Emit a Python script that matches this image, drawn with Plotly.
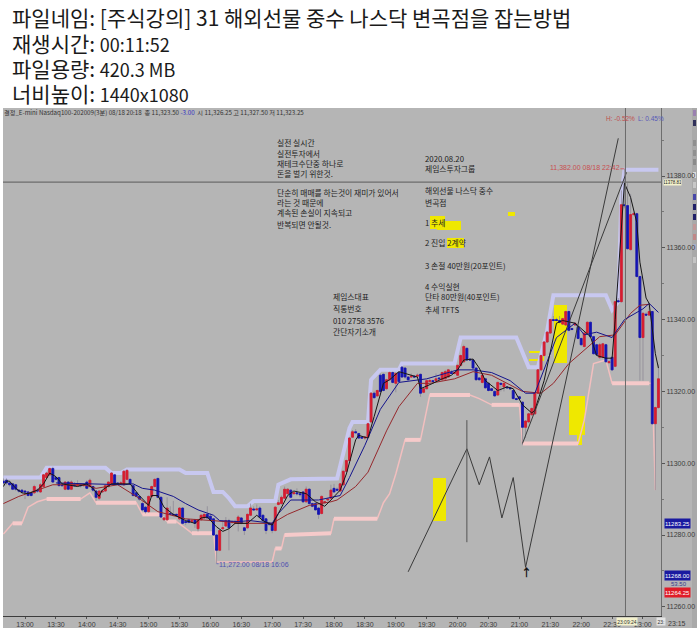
import pandas as pd
import plotly.graph_objects as go

DAY = "2020-08-18 "
KR = "Noto Sans CJK KR"
SMALL = "Liberation Sans"
W, H = 700, 631

# 3 minute bars, 12:39 to 23:15
bar_times = pd.date_range(DAY + "12:39", DAY + "23:15", freq="3min")

opens = [
    11295, 11295.25, 11294.5, 11294.25, 11294, 11292.5, 11292.5, 11292.25, 11292, 11291.75,
    11291.75, 11292.5, 11292, 11293.5, 11296, 11296.75, 11298.5, 11296, 11296, 11294,
    11292.75, 11294.75, 11292.75, 11294, 11293.75, 11294, 11293.75, 11294.75, 11293.5, 11293.5,
    11292.25, 11290.25, 11292, 11292.25, 11293.5, 11294.25, 11296.75, 11294.5, 11294.25, 11294,
    11295.5, 11295.5, 11293.75, 11291.75, 11290.75, 11288.75, 11287.75, 11286.5, 11290.75, 11293.5,
    11295.75, 11290.5, 11284.25, 11284.25, 11286, 11285.75, 11285.75, 11284.5, 11287.5, 11283.75,
    11284.25, 11283.75, 11284.25, 11281.75, 11284.25, 11284.75, 11285.75, 11285.25, 11284.5, 11280,
    11275.75, 11281.75, 11282.5, 11284, 11283.5, 11283.25, 11283.25, 11284.75, 11282, 11282,
    11285.5, 11287.25, 11287, 11287.5, 11285.5, 11284.5, 11283.25, 11283.25, 11281.25, 11288.5,
    11288.75, 11290.25, 11291.5, 11292.5, 11291.5, 11291.75, 11291.5, 11292, 11289.25, 11292.75,
    11288.75, 11288.75, 11287.5, 11286, 11289, 11289.75, 11290.25, 11293, 11292.75, 11292.25,
    11294, 11297.75, 11300.75, 11307.25, 11308.75, 11308.25, 11307.25, 11307, 11307.25, 11311.5,
    11319.5, 11318.75, 11324.5, 11324.75, 11320.75, 11323.25, 11325.25, 11322.25, 11325.25, 11326.75,
    11326.5, 11324, 11324, 11324.25, 11324.25, 11324.75, 11319.75, 11320.75, 11322.75, 11323,
    11323, 11323.75, 11323.25, 11323.5, 11324, 11325.25, 11325, 11324.5, 11327.25, 11328.25,
    11332, 11329, 11328.75, 11326.5, 11323.75, 11322.5, 11323.5, 11322.25, 11320.75, 11320,
    11319, 11322.25, 11321.25, 11321.25, 11321, 11320.25, 11318, 11318.5, 11317, 11310,
    11311.5, 11313.5, 11313.75, 11319.5, 11326, 11330, 11333.75, 11336.25, 11340, 11340,
    11339.75, 11338.75, 11338.5, 11342.25, 11337.5, 11338.5, 11338, 11334.75, 11332.5, 11336.25,
    11339.25, 11335.25, 11333, 11329.5, 11329.5, 11333, 11328, 11329.5, 11327, 11345.25,
    11345, 11372, 11371.75, 11359.5, 11369.25, 11369.5, 11352, 11335, 11341.5, 11341.25,
    11342.25, 11311, 11315.5,
]
closes = [
    11294.5, 11294.5, 11294, 11292.75, 11292.75, 11292.25, 11292, 11292, 11291, 11291,
    11293.5, 11292.25, 11294, 11296.75, 11297.25, 11298.5, 11294.75, 11295.5, 11293.75, 11293.75,
    11294.75, 11292.75, 11294.75, 11293.75, 11294, 11293.75, 11294, 11293, 11295.25, 11292.5,
    11290.5, 11292.25, 11292.25, 11293.75, 11294.75, 11297.25, 11294.25, 11294.25, 11294.5, 11297.75,
    11298, 11294.25, 11291, 11290.75, 11290, 11287, 11286.5, 11290.75, 11293.5, 11295.5,
    11290.5, 11285, 11284.75, 11287.5, 11285.75, 11285.5, 11285.5, 11287.5, 11283.25, 11283.5,
    11283.5, 11284, 11283.25, 11284.25, 11285.5, 11285.75, 11284.75, 11284.25, 11280, 11275.75,
    11281.25, 11282, 11284, 11282, 11283.75, 11283.75, 11285, 11283.25, 11281.25, 11285.75,
    11287.5, 11287, 11287.25, 11285, 11284, 11281.25, 11283, 11281.25, 11287.75, 11289,
    11290.5, 11292.75, 11292.75, 11290.5, 11291.75, 11291.5, 11291.25, 11289.25, 11292.75, 11288.75,
    11288, 11287, 11285.75, 11290.75, 11289.25, 11290, 11292.5, 11292, 11292.5, 11294.25,
    11297.75, 11300.75, 11307, 11308.75, 11308.5, 11307, 11307, 11307.25, 11311, 11319.5,
    11318.25, 11320.25, 11320, 11320.25, 11323.25, 11325.25, 11322.5, 11325, 11322.75, 11324,
    11324, 11323.25, 11324.25, 11324, 11324.5, 11319.5, 11320.75, 11323, 11323, 11322.75,
    11323.5, 11323.5, 11325.25, 11325.5, 11326, 11325, 11325.25, 11327.25, 11330, 11332.5,
    11328.75, 11328.75, 11326.5, 11323.25, 11323.25, 11324.5, 11321, 11320.25, 11320.25, 11318.75,
    11322.5, 11322, 11322.25, 11321, 11320.75, 11318, 11317.75, 11318, 11310, 11311.75,
    11313.75, 11315.25, 11319.5, 11326, 11330, 11333.75, 11336.5, 11340, 11339.75, 11339.75,
    11339.25, 11340.25, 11342.25, 11337, 11337.25, 11339, 11334.75, 11333, 11336.25, 11339.25,
    11335.25, 11330.5, 11330.25, 11333, 11333.25, 11328.25, 11328.25, 11326, 11345, 11345,
    11372, 11371.75, 11359.75, 11369.25, 11369.5, 11352, 11335, 11341.75, 11341.25, 11342.25,
    11311, 11315.5, 11323.5,
]
highs = [
    11295.75, 11295.75, 11295, 11294.5, 11294.25, 11292.75, 11292.75, 11292.5, 11292.25, 11292,
    11294, 11293, 11294.5, 11297, 11297.5, 11298.75, 11299, 11296.25, 11296.25, 11294.5,
    11295, 11295, 11295.25, 11294.75, 11295.25, 11294.25, 11294.25, 11295.25, 11295.75, 11293.75,
    11292.5, 11292.5, 11292.5, 11294, 11295, 11297.5, 11297, 11294.75, 11295, 11298,
    11298.25, 11295.75, 11294, 11292, 11291, 11289.25, 11288, 11291, 11293.75, 11295.75,
    11296, 11290.75, 11285, 11290.5, 11288, 11289.5, 11286, 11287.75, 11287.75, 11284.5,
    11284.5, 11284.5, 11284.5, 11284.5, 11285.75, 11286, 11288, 11286, 11284.75, 11280.25,
    11281.5, 11284, 11285, 11284.5, 11284, 11284.25, 11285.5, 11285, 11282.25, 11286,
    11288.75, 11288, 11288.5, 11288, 11285.75, 11284.75, 11283.5, 11283.5, 11288, 11289.75,
    11291, 11293.5, 11293, 11292.75, 11292, 11293, 11291.75, 11292.25, 11293.5, 11293,
    11289, 11289, 11287.75, 11291, 11289.5, 11290.25, 11294, 11294.25, 11293.25, 11294.5,
    11298, 11301, 11307.25, 11309.25, 11309.5, 11308.5, 11307.5, 11307.5, 11311.25, 11319.75,
    11320, 11320.5, 11325, 11325, 11323.5, 11325.5, 11325.5, 11325.25, 11325.5, 11327,
    11326.75, 11324.25, 11325, 11324.5, 11325, 11325, 11321, 11323.25, 11323.5, 11323.25,
    11325, 11324, 11325.5, 11326, 11326.25, 11326, 11325.5, 11327.5, 11330.25, 11333,
    11332.25, 11329.25, 11329, 11326.75, 11324, 11324.75, 11323.75, 11322.5, 11321, 11320.25,
    11322.75, 11322.5, 11322.5, 11321.5, 11321.25, 11320.5, 11318.25, 11318.75, 11317.25, 11312,
    11314, 11315.5, 11319.75, 11326.25, 11330.25, 11334, 11336.75, 11340.25, 11341, 11340.5,
    11341, 11340.5, 11342.5, 11342.5, 11337.75, 11339.25, 11338.25, 11335, 11336.5, 11339.5,
    11339.5, 11335.5, 11333.25, 11333.5, 11333.5, 11333.25, 11328.75, 11329.75, 11345.25, 11346,
    11376, 11382, 11378, 11375, 11370, 11369.75, 11352.25, 11342, 11342, 11344,
    11342.5, 11315.75, 11327.5,
]
lows = [
    11294, 11294, 11293.5, 11292.5, 11292.25, 11291.75, 11291.5, 11290, 11290.75, 11290.75,
    11291.5, 11291.75, 11291.75, 11293.25, 11295.75, 11296.5, 11294.5, 11295, 11293.5, 11293.5,
    11292.5, 11292.5, 11292.5, 11293.5, 11293.5, 11293.25, 11293.5, 11292.75, 11293.25, 11292,
    11289.5, 11289.75, 11291.75, 11292, 11293.25, 11294, 11293.75, 11294, 11294, 11293.75,
    11295.25, 11294, 11290.75, 11290.5, 11289.5, 11286.75, 11286, 11286.25, 11290.5, 11293.25,
    11290.25, 11284.75, 11284, 11284, 11285.5, 11285.25, 11285.25, 11284.25, 11283, 11282.75,
    11283.25, 11283.5, 11282, 11281, 11284, 11284.5, 11284.5, 11284, 11279.75, 11272,
    11275.5, 11281.5, 11282.25, 11275.75, 11283, 11283, 11281, 11283, 11280, 11281.75,
    11285.25, 11286.75, 11286.75, 11284.75, 11283.75, 11280.25, 11282.5, 11280.5, 11281, 11288.25,
    11288.5, 11290, 11291.25, 11290.25, 11291.25, 11291, 11290.5, 11289, 11289, 11288.5,
    11287.75, 11286.75, 11284.5, 11285.75, 11288.75, 11289.5, 11290, 11291.75, 11292.25, 11292,
    11293.75, 11297.5, 11300.5, 11307, 11308.25, 11306.75, 11306.75, 11306.5, 11307, 11311.25,
    11318, 11318.5, 11319.75, 11320, 11320.5, 11323, 11322.25, 11319.75, 11322.5, 11323.75,
    11323.5, 11323, 11323.75, 11323.75, 11324, 11318.5, 11319.5, 11320.5, 11322.5, 11322.5,
    11322.75, 11323.25, 11323, 11323.25, 11323.75, 11324.75, 11324.75, 11324.25, 11327, 11328,
    11328.5, 11328.5, 11326.25, 11323, 11323, 11322.25, 11320.75, 11320, 11320, 11318.5,
    11318.75, 11320, 11320, 11320.75, 11320.5, 11317.75, 11317.5, 11317.75, 11305, 11307,
    11311.25, 11313.25, 11313.5, 11319.25, 11325.75, 11329.75, 11333.5, 11336, 11339.5, 11339.5,
    11339, 11338.5, 11338.25, 11336.75, 11337, 11338.25, 11334.5, 11332.75, 11332.25, 11336,
    11335, 11330.25, 11330, 11329, 11329.25, 11328, 11327.75, 11325.75, 11326.75, 11344.75,
    11344.75, 11371, 11359.5, 11359.25, 11369, 11351.75, 11323, 11323, 11341, 11341,
    11310.75, 11292.5, 11315.25,
]

# indicator lines, read at their corners
upper_times = ["12:39", "13:15", "13:21", "14:18", "14:24", "14:33", "14:39", "15:30", "15:36", "15:57",
               "16:03", "16:12", "16:18", "16:24", "16:36", "16:42", "17:03", "17:06", "17:18", "18:03",
               "18:15", "18:18", "18:33", "18:36", "18:45", "19:03", "19:06", "19:57", "20:03", "20:57",
               "21:09", "21:18", "21:27", "21:33", "22:24", "22:30", "22:36", "22:39", "22:42", "23:15"]
upper_vals = [11296, 11296, 11298.75, 11298.75, 11297.25, 11297.25, 11298.25, 11298.25, 11297.25, 11297.25,
              11292, 11292, 11290.25, 11288, 11288, 11289.5, 11289.5, 11294, 11295.5, 11295.75,
              11309.75, 11311.5, 11311.5, 11323.25, 11326, 11326, 11327.75, 11327.75, 11335, 11335,
              11326.75, 11326.75, 11337, 11346.75, 11346.75, 11342.75, 11345, 11373.75, 11381.75, 11381.75]

lower_times = ["12:39", "12:45", "12:48", "12:57", "13:03", "13:12", "13:21", "13:54", "14:03", "14:09",
               "14:48", "14:54", "15:12", "15:18", "15:27", "15:33", "15:42", "16:03", "16:06", "17:00",
               "17:03", "17:09", "17:12", "17:57", "18:00", "18:42", "18:48", "18:54", "19:00", "19:09",
               "19:24", "19:33", "20:12", "20:21", "20:33", "21:00", "21:03", "21:57", "22:03", "22:12",
               "22:24", "22:30", "23:06", "23:09", "23:12"]
lower_vals = [11280.25, 11282.25, 11283.25, 11283.25, 11287.75, 11289.25, 11290, 11290, 11291.75, 11289,
              11289, 11285.75, 11285.75, 11283.75, 11283.75, 11282.5, 11280.5, 11280.5, 11272.5, 11272.5,
              11276.25, 11276.25, 11280, 11280.5, 11284.5, 11284.5, 11289, 11291.5, 11297, 11306.5,
              11306.5, 11319, 11319, 11318, 11316.25, 11316.25, 11305.5, 11305.5, 11312, 11327.75,
              11328.75, 11322.25, 11322.25, 11322.25, 11292.5]

# flat stretches of the lower band are drawn thick
flat_times = ["12:48", "12:57", None, "13:21", "13:54", None, "14:09", "14:48", None, "14:54", "15:12", None,
              "15:18", "15:27", None, "15:42", "16:03", None, "17:03", "17:09", None, "17:12", "17:57", None,
              "18:00", "18:42", None, "19:09", "19:24", None, "19:33", "20:12", None, "20:33", "21:00", None,
              "21:03", "21:57", None, "22:30", "23:06"]
flat_vals = [11283.25, 11283.25, None, 11290, 11290, None, 11289, 11289, None, 11285.75, 11285.75, None,
             11283.75, 11283.75, None, 11280.5, 11280.5, None, 11276.25, 11276.25, None, 11280, 11280.5, None,
             11284.5, 11284.5, None, 11306.5, 11306.5, None, 11319, 11319, None, 11316.25, 11316.25, None,
             11305.5, 11305.5, None, 11322.25, 11322.25]

fast_times = ["12:39", "12:42", "12:45", "12:51", "12:57", "13:03", "13:12", "13:18", "13:24", "13:30",
              "13:36", "13:51", "14:00", "14:06", "14:12", "14:15", "14:24", "14:36", "14:42", "14:51",
              "15:00", "15:03", "15:09", "15:15", "15:24", "15:36", "15:45", "15:51", "15:57", "16:06",
              "16:12", "16:18", "16:24", "16:36", "16:45", "16:51", "17:00", "17:06", "17:15", "17:21",
              "17:33", "17:42", "17:51", "17:57", "18:06", "18:12", "18:21", "18:24", "18:33", "18:39",
              "18:45", "18:48", "18:54", "19:03", "19:21", "19:24", "19:36", "19:45", "19:54", "20:00",
              "20:06", "20:15", "20:21", "20:27", "20:39", "20:48", "20:54", "21:03", "21:12", "21:15",
              "21:24", "21:36", "21:42", "21:54", "22:09", "22:15", "22:24", "22:30", "22:33", "22:39",
              "22:42", "22:48", "22:54", "22:57", "23:03", "23:06", "23:12", "23:15"]
fast_vals = [11293.5, 11295, 11295, 11293, 11291.75, 11291.5, 11292.5, 11294.25, 11297.25, 11296.25,
             11294.25, 11293.5, 11294.25, 11293, 11290.75, 11292.5, 11294.25, 11294.25, 11294.25, 11291,
             11288.25, 11291, 11291, 11287.75, 11285.75, 11284, 11283.25, 11284.75, 11285, 11282.25,
             11281, 11281.75, 11283.25, 11283.25, 11285.5, 11284, 11282.75, 11286, 11291, 11292.25,
             11291.5, 11289.25, 11288, 11289.75, 11292.5, 11297, 11306.5, 11307.75, 11307, 11313,
             11319.5, 11322.25, 11323.25, 11325.5, 11324, 11320.75, 11322.25, 11323.5, 11324.5, 11326,
             11328.75, 11329, 11326.5, 11323, 11320.25, 11321.25, 11320.75, 11316.25, 11314, 11314.75,
             11323, 11339, 11339.75, 11339, 11335.25, 11330, 11329.25, 11329.25, 11340, 11365,
             11378, 11374, 11367, 11356, 11346, 11344.5, 11330.5, 11326.5]

mid_times = ["13:30", "14:00", "14:36", "14:45", "14:54", "15:06", "15:24", "15:36", "15:48", "16:03",
             "16:09", "16:27", "16:39", "17:00", "17:06", "17:18", "17:45", "18:06", "18:15", "18:30",
             "18:45", "19:03", "19:30", "20:00", "20:15", "20:33", "20:51", "21:06", "21:15", "21:36",
             "21:54", "22:03", "22:15", "22:30", "22:42", "23:00", "23:06", "23:15"]
mid_vals = [11294.5, 11294.25, 11294, 11294.25, 11293, 11292.5, 11290.75, 11288.75, 11287, 11285.5,
            11284, 11283.75, 11284, 11283.25, 11286, 11289.75, 11289.75, 11291, 11296, 11305,
            11315, 11322.5, 11323.5, 11326, 11326, 11325.25, 11323, 11319.5, 11319.5, 11335,
            11339, 11335.75, 11336.5, 11335, 11340, 11343, 11344.5, 11342]

slow_times = ["12:39", "12:54", "13:12", "13:27", "13:57", "14:09", "14:30", "14:48", "15:09", "15:36",
              "16:03", "16:33", "17:00", "17:15", "17:36", "17:57", "18:03", "18:21", "18:33", "18:51",
              "19:03", "19:21", "19:33", "19:57", "20:15", "20:33", "20:48", "21:03", "21:21", "21:33",
              "21:48", "22:03", "22:18", "22:33", "22:48", "22:57", "23:06"]
slow_vals = [11288.75, 11290.75, 11292.5, 11294, 11294, 11293, 11294, 11290.75, 11286.5, 11284.5,
             11284, 11283.25, 11283.25, 11285.75, 11288.25, 11289.25, 11289.75, 11293.5, 11297.5, 11309,
             11315.75, 11322.25, 11322.25, 11323.5, 11325.5, 11324.5, 11322.25, 11320, 11319.5, 11322.25,
             11327.75, 11331.5, 11335.25, 11335.75, 11341.75, 11344, 11344.25]

# hand drawn lines on the chart
zigzag_times = ["19:12", "20:09", "20:21", "20:31", "20:43", "20:54", "21:06", "22:36"]
zigzag_vals = [11269.75, 11304, 11294, 11301.75, 11284.75, 11296, 11271, 11390.5]
trend_times = ["21:03", "22:44"]
trend_vals = [11305.5, 11381]
stem_times = ["20:09", "20:09"]
stem_vals = [11312, 11278]
low_mark_times = ["16:06", "16:08"]
low_mark_vals = [11272, 11272]
high_mark_times = ["22:38", "22:42"]
high_mark_vals = [11382, 11382]

tick_hours = ["13:00", "13:30", "14:00", "14:30", "15:00", "15:30", "16:00", "16:30", "17:00", "17:30",
              "18:00", "18:30", "19:00", "19:30", "20:00", "20:30", "21:00", "21:30", "22:00", "22:30", "23:00"]
price_ticks = [11260, 11280, 11300, 11320, 11340, 11360, 11380]
minor_ticks = [11270, 11290, 11310, 11330, 11350, 11370, 11390]

LATIN = "<span style='font-size:18px'>%s</span>"
header_lines = [
    ("파일네임: [주식강의] 31 해외선물 중수 나스닥 변곡점을 잡는방법", 17, 21),
    ("재생시간: " + LATIN % "00:11:52", 43, 21),
    ("파일용량: " + LATIN % "420.3 MB", 68, 21),
    ("너비높이: " + LATIN % "1440x1080", 93, 21),
]
chart_notes = [
    (276, 142, "실전 실시간"), (276, 153, "실전투자에서"), (276, 163, "재테크수단중 하나로"),
    (276, 174, "돈을 벌기 위한것."), (276, 192, "단순히 매매를 하는것이 재미가 있어서"),
    (276, 202, "라는 것 때문에"), (276, 213, "계속된 손실이 지속되고"), (276, 224, "반복되면 안될것."),
    (424, 158, "2020.08.20"), (424, 169, "제임스투자그룹"), (424, 190, "해외선물 나스닥 중수"),
    (424, 202, "변곡점"), (424, 223, "1 추세"), (424, 243, "2 진입 2계약"),
    (424, 265, "3 손절 40만원(20포인트)"), (424, 287, "4 수익실현"),
    (424, 297, "단타 80만원(40포인트)"), (424, 309, "추세 TFTS"),
    (332, 297, "제임스대표"), (332, 308, "직통번호"), (332, 320, "010 2758 3576"), (332, 331, "간단자기소개"),
]
yellow_boxes = [(430, 445, 216, 229), (437, 461, 221, 230), (447, 464, 238, 248), (508, 515, 212, 216),
                (554, 567, 305, 363), (569, 585, 396, 435), (577, 582, 435, 445), (433, 446, 478, 521),
                (529, 541, 351, 353), (529, 540, 359, 361), (540, 544, 355, 361)]
toolbar_icons = [(113, "#9a80b0"), (123, "#30305a"), (143, "#909090"), (153, "#909090"), (162, "#8a8a8a"),
                 (175, "#dcdcdc"), (185, "#c8c8c8"), (197, "#4848a8"), (207, "#20206a"), (217, "#20206a"),
                 (227, "#c09898"), (237, "#c08888"), (247, "#a8b0c8"), (260, "#c4c4c4")]


def ts(hhmm):
    return None if hhmm is None else DAY + hhmm + ":00"


def px(x):
    return x / W


def py(y):
    return 1 - y / H


def add_line(times, vals, color, width, top=True):
    fig.add_trace(go.Scatter(x=[ts(t) for t in times], y=vals, mode="lines",
                             xaxis="x2" if top else "x", yaxis="y2" if top else "y",
                             line=dict(color=color, width=width), hoverinfo="skip"))


def note(x, y, text, size=8, color="#1e1e1e", font=KR, anchor="left", bg=None, box=None):
    fig.add_annotation(xref="paper", yref="paper", x=px(x), y=py(y), text=text, showarrow=False,
                       xanchor=anchor, yanchor="middle", borderpad=0, bgcolor=bg,
                       width=box[0] if box else None, height=box[1] if box else None,
                       font=dict(family=font, size=size, color=color))


fig = go.Figure()

# bands sit on the base axes so the candles, which are on the overlay axes, cover them
add_line(upper_times, upper_vals, "#c8c8f0", 4, top=False)
add_line(lower_times, lower_vals, "#f2bfbf", 1.5, top=False)
add_line(flat_times, flat_vals, "#f6caca", 4, top=False)

# grey wicks first, then bodies without wicks on top
fig.add_trace(go.Candlestick(
    x=bar_times, open=opens, high=highs, low=lows, close=closes, xaxis="x2", yaxis="y2",
    whiskerwidth=0,
    increasing=dict(fillcolor="#8e8a96", line=dict(color="#8e8a96", width=0.8)),
    decreasing=dict(fillcolor="#8e8a96", line=dict(color="#8e8a96", width=0.8)),
))
fig.add_trace(go.Candlestick(
    x=bar_times, open=opens, close=closes, xaxis="x2", yaxis="y2",
    high=[max(o, c) for o, c in zip(opens, closes)],
    low=[min(o, c) for o, c in zip(opens, closes)],
    whiskerwidth=0,
    increasing=dict(fillcolor="#d81c30", line=dict(color="#d81c30", width=0.8)),
    decreasing=dict(fillcolor="#1414b4", line=dict(color="#1414b4", width=0.8)),
))

add_line(slow_times, slow_vals, "#96282c", 1)
add_line(mid_times, mid_vals, "#14148c", 1)
add_line(fast_times, fast_vals, "#161616", 1)
add_line(zigzag_times, zigzag_vals, "#3a3a3a", 1)
add_line(trend_times, trend_vals, "#3a3a3a", 1)
add_line(stem_times, stem_vals, "#555555", 1)
add_line(low_mark_times, low_mark_vals, "#7070c0", 1)
add_line(high_mark_times, high_mark_vals, "#c86060", 1)

x_range = [DAY + "12:38:38", DAY + "23:17:29"]
y_range = [11257.44, 11398.94]

fig.update_layout(
    width=W, height=H, autosize=False,
    margin=dict(l=0, r=0, t=0, b=0),
    paper_bgcolor="white", plot_bgcolor="rgba(0,0,0,0)",
    showlegend=False, boxgap=0.12,
    xaxis=dict(
        type="date", domain=[px(3), px(661)], range=x_range,
        rangeslider=dict(visible=False),
        tickvals=[ts(t) for t in tick_hours], ticktext=tick_hours,
        ticks="outside", ticklen=2, tickcolor="#555555",
        tickfont=dict(family=SMALL, size=7, color="#3c3c3c"),
        showgrid=False, zeroline=False, showline=True, linecolor="#3c3c3c", linewidth=1,
    ),
    yaxis=dict(
        side="right", domain=[py(616), py(108)], range=y_range,
        tickvals=price_ticks, tickformat=".2f",
        ticks="outside", ticklen=3, tickcolor="#555555",
        minor=dict(tickvals=minor_ticks, ticks="outside", ticklen=2, tickcolor="#777777"),
        tickfont=dict(family=SMALL, size=7, color="#3c3c3c"),
        showgrid=False, zeroline=False, showline=True, linecolor="#6e6e6e", linewidth=1,
    ),
    xaxis2=dict(type="date", overlaying="x", range=x_range, visible=False, rangeslider=dict(visible=False)),
    yaxis2=dict(overlaying="y", range=y_range, visible=False),
)

# grey terminal window behind the plot
fig.add_shape(type="rect", xref="paper", yref="paper", layer="below", line_width=0, fillcolor="#b5b5b5",
              x0=px(3), x1=px(692), y0=py(628), y1=py(108))
fig.add_shape(type="rect", xref="paper", yref="paper", layer="below", line_width=0, fillcolor="#a9a9a9",
              x0=px(692), x1=px(697), y0=py(628), y1=py(108))
for y, color in toolbar_icons:
    fig.add_shape(type="rect", xref="paper", yref="paper", layer="below", line_width=0, fillcolor=color,
                  x0=px(693), x1=px(696), y0=py(y + 3), y1=py(y - 3))
for x0, x1, y0, y1 in yellow_boxes:
    fig.add_shape(type="rect", xref="paper", yref="paper", layer="below", line_width=0, fillcolor="#efe800",
                  x0=px(x0), x1=px(x1), y0=py(y1), y1=py(y0))

# crosshair
fig.add_hline(y=11378.3, line=dict(color="#5a5a5a", width=1))
fig.add_vline(x=ts("22:43"), line=dict(color="#6a6a6a", width=1))

for text, y, size in header_lines:
    note(11, y, text, size=size, color="#1a1a1a")
note(3, 112, "결정_E-mini Nasdaq100-202009(3분) 08/18 20:18 &nbsp;종 11,323.50 "
             "<span style='color:#3030c0'>-3.00</span> &nbsp;시 11,326.25 고 11,327.50 저 11,323.25",
     size=6.2, color="#333333")
for x, y, text in chart_notes:
    note(x, y, text, size=7.8)

note(605, 119, "H: -0.52%", size=6.5, color="#c05050", font=SMALL)
note(637, 119, "L: 0.45%", size=6.5, color="#5858b8", font=SMALL)
note(549, 167, "11,382.00 08/18 22:42", size=7, color="#c85050", font=SMALL)
note(218, 564, "11,272.00 08/18 16:06", size=7, color="#5050b0", font=SMALL)
note(526, 572, "<b>↑</b>", size=11, color="#111111", anchor="center")

note(663, 183, "11378.81", size=4.5, color="#222222", font=SMALL, bg="#f4f2cc", box=(17, 5))
note(663.5, 523.5, "11283.25", size=6, color="#ffffff", font=SMALL, bg="#1a1aa0", box=(25, 9))
note(663.5, 575, "11268.00", size=6, color="#ffffff", font=SMALL, bg="#1a1aa0", box=(25, 9))
note(688, 584, "53.50", size=6, color="#3a3a8c", font=SMALL, anchor="right")
note(663.5, 592, "11264.25", size=6, color="#ffffff", font=SMALL, bg="#e01c28", box=(25, 9))
note(677, 623, "23:15", size=7, color="#3c3c3c", font=SMALL, anchor="center")
note(627, 621.5, "23:09:24", size=5, color="#333333", font=SMALL, anchor="center", bg="#f4f2cc", box=(20, 7))
note(661, 621.5, "23:", size=5, color="#333333", font=SMALL, anchor="center", bg="#e4e4e4", box=(8, 7))

# the page must start at the window corner, browsers add a body margin otherwise
fig.write_html("out.html", config={"displayModeBar": False},
               post_script="document.body.style.margin='0';document.body.style.overflow='hidden';")
